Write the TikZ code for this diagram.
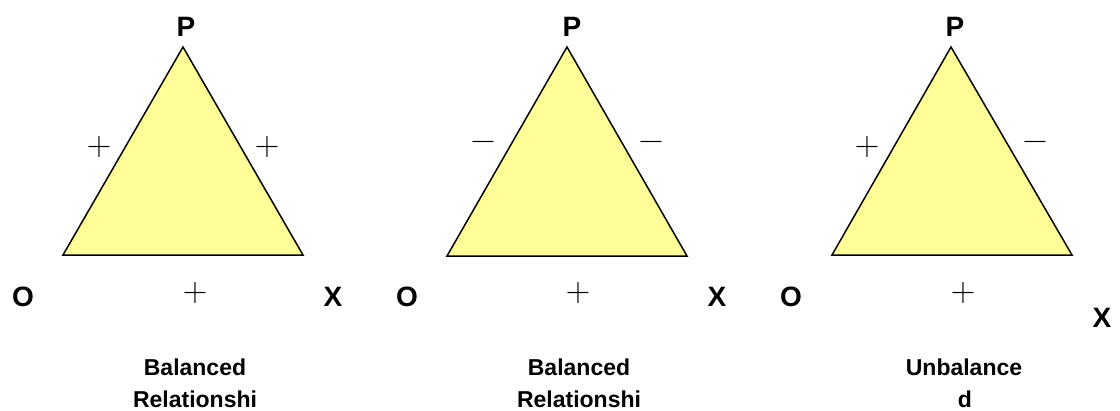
\documentclass[tikz,border=0pt]{standalone}
\usepackage{fontspec}
\setmainfont{Liberation Sans}
\newfontfamily\signfont{Latin Modern Roman}
\definecolor{triyellow}{HTML}{FFFF99}
\tikzset{
  tri/.style={draw=black, line width=1.5pt, fill=triyellow, line join=miter},
  vlabel/.style={font=\fontsize{28}{28}\selectfont\bfseries, anchor=base, inner sep=0pt},
  sign/.style={font=\signfont\fontsize{34}{34}\selectfont, inner sep=0pt, anchor=center},
  caption/.style={font=\fontsize{23}{23}\selectfont\bfseries, anchor=base, inner sep=0pt}
}
\begin{document}
\begin{tikzpicture}[x=1pt,y=-1pt]
\useasboundingbox (0,0) rectangle (1120,410);
% triangle 1
\coordinate (a1) at (183,47);
\coordinate (b1) at (63,255);
\coordinate (c1) at (303,255);
\draw[tri] (a1) -- (b1) -- (c1) -- cycle;
\node[vlabel] (p1) at (186,36) {P};
\node[vlabel] (o1) at (23,306) {O};
\node[vlabel] (x1) at (333,306) {X};
\node[sign] (s1l) at (99,147) {+};
\node[sign] (s1r) at (267,147) {+};
\node[sign] (s1b) at (195,293) {+};
\node[caption] (t1a) at (195,375) {Balanced};
\node[caption] (t1b) at (195,407) {Relationshi};
% triangle 2
\coordinate (a2) at (567,47);
\coordinate (b2) at (447,256);
\coordinate (c2) at (687,256);
\draw[tri] (a2) -- (b2) -- (c2) -- cycle;
\node[vlabel] (p2) at (572,36) {P};
\node[vlabel] (o2) at (407,306) {O};
\node[vlabel] (x2) at (717,306) {X};
\node[sign] (s2l) at (483,146) {−};
\node[sign] (s2r) at (651,146) {−};
\node[sign] (s2b) at (578,293) {+};
\node[caption] (t2a) at (579,375) {Balanced};
\node[caption] (t2b) at (579,407) {Relationshi};
% triangle 3
\coordinate (a3) at (951,47);
\coordinate (b3) at (832,255);
\coordinate (c3) at (1072,255);
\draw[tri] (a3) -- (b3) -- (c3) -- cycle;
\node[vlabel] (p3) at (955,36) {P};
\node[vlabel] (o3) at (791,306) {O};
\node[vlabel] (x3) at (1102,327) {X};
\node[sign] (s3l) at (867,147) {+};
\node[sign] (s3r) at (1035,146) {−};
\node[sign] (s3b) at (963,293) {+};
\node[caption] (t3a) at (964,375) {Unbalance};
\node[caption] (t3b) at (965,407) {d};
\end{tikzpicture}
\end{document}
